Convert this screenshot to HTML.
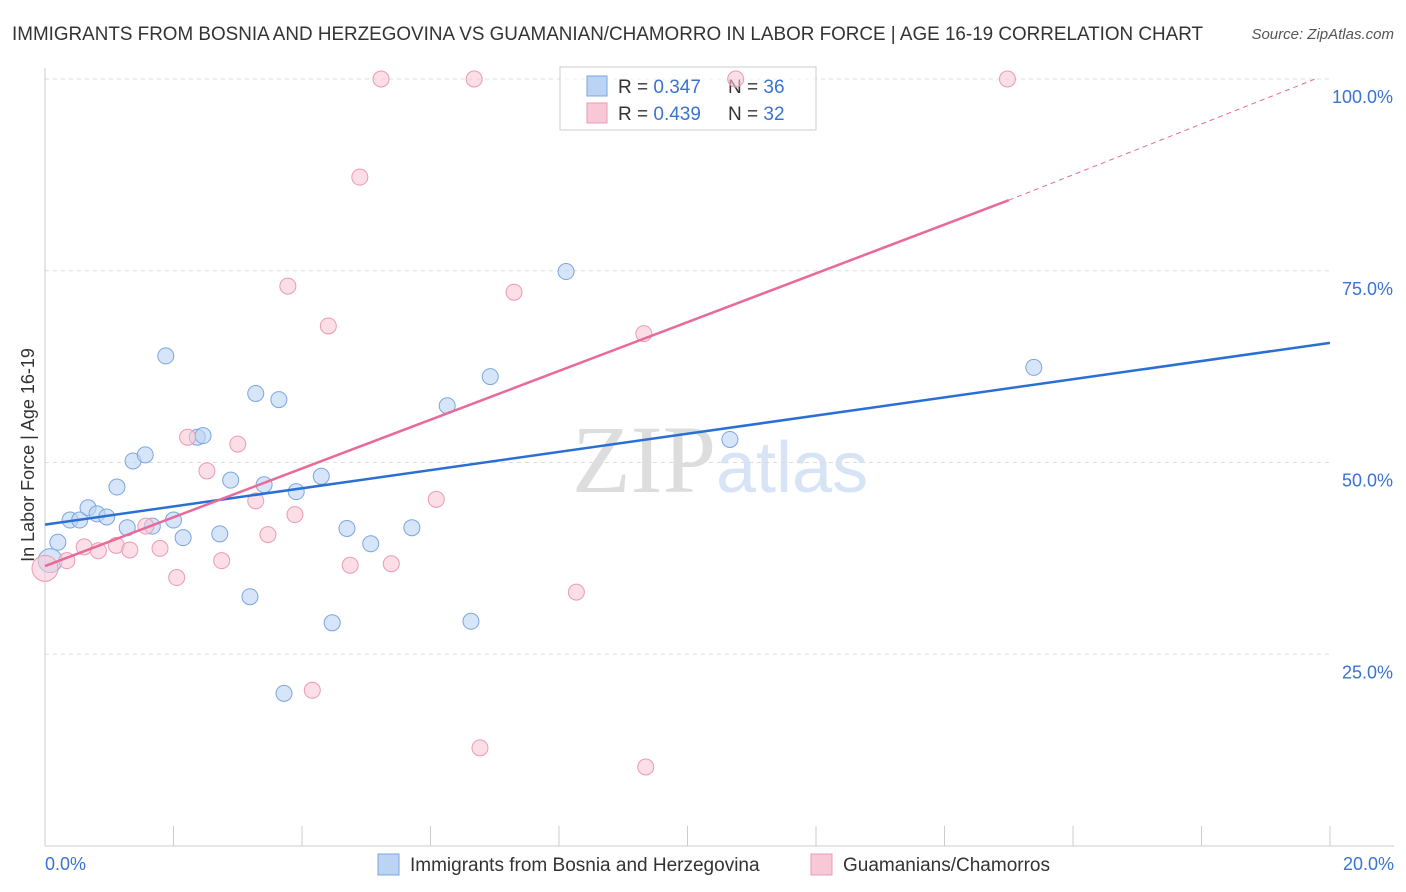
<!DOCTYPE html>
<html><head><meta charset="utf-8"><style>
body{margin:0;background:#fff;font-family:"Liberation Sans",sans-serif}
svg{display:block}
</style></head><body>
<svg id="c" width="1406" height="892">
<text x="12" y="40" font-size="19" fill="#333" textLength="1191" lengthAdjust="spacingAndGlyphs">IMMIGRANTS FROM BOSNIA AND HERZEGOVINA VS GUAMANIAN/CHAMORRO IN LABOR FORCE | AGE 16-19 CORRELATION CHART</text>
<text x="1394" y="39" font-size="15" fill="#555" text-anchor="end" font-style="italic">Source: ZipAtlas.com</text>
<text x="716" y="492" font-size="96" fill="#ddd" text-anchor="end" font-family="Liberation Serif">ZIP</text>
<text x="716" y="492" font-size="72" fill="#d6e4f5">atlas</text>
<text transform="translate(34,455) rotate(-90)" font-size="18" fill="#333" text-anchor="middle">In Labor Force | Age 16-19</text>
<g id="grid"></g>
<g>
<rect x="560" y="67" width="256" height="63" fill="#fff" fill-opacity="0.6" stroke="#ccc"/>
<rect x="587" y="76" width="20" height="20" fill="#bcd4f3" stroke="#7aa6e0"/>
<rect x="587" y="103" width="20" height="20" fill="#f8c8d6" stroke="#ec9ab4"/>
<text x="618" y="93" font-size="19" fill="#333">R = <tspan fill="#3a73d0">0.347</tspan><tspan x="728">N = </tspan><tspan fill="#3a73d0">36</tspan></text>
<text x="618" y="120" font-size="19" fill="#333">R = <tspan fill="#3a73d0">0.439</tspan><tspan x="728">N = </tspan><tspan fill="#3a73d0">32</tspan></text>
</g>
<g id="marks"></g>
<g>
<rect x="378" y="854" width="21" height="21" fill="#bcd4f3" stroke="#7aa6e0"/>
<text x="410" y="871" font-size="19" fill="#333">Immigrants from Bosnia and Herzegovina</text>
<rect x="811" y="854" width="21" height="21" fill="#f8c8d6" stroke="#ec9ab4"/>
<text x="843" y="871" font-size="19" fill="#333">Guamanians/Chamorros</text>
</g>
</svg>
<script>
const blueX=[0.08,0.2,0.39,0.54,0.67,0.81,0.96,1.12,1.28,1.37,1.56,1.67,1.88,2.0,2.15,2.37,2.46,2.72,2.89,3.19,3.28,3.41,3.64,3.72,3.91,4.3,4.47,4.7,5.07,5.71,6.26,6.63,6.93,8.11,10.66,15.39];
const blueY=[37.2,39.6,42.5,42.5,44.1,43.3,42.9,46.8,41.5,50.2,51.0,41.7,63.9,42.5,40.2,53.3,53.5,40.7,47.7,32.5,59.0,47.1,58.2,19.9,46.2,48.2,29.1,41.4,39.4,41.5,57.4,29.3,61.2,74.9,53.0,62.4];
const pinkX=[0.0,0.34,0.61,0.83,1.11,1.32,1.57,1.79,2.05,2.22,2.52,2.75,3.0,3.28,3.47,3.78,3.89,4.16,4.41,4.75,4.90,5.23,5.39,6.09,6.68,6.77,7.3,8.27,9.32,9.35,10.75,14.98];
const pinkY=[36.2,37.2,39.0,38.5,39.2,38.6,41.7,38.8,35.0,53.3,48.9,37.2,52.4,45.0,40.6,73.0,43.2,20.3,67.8,36.6,87.2,100,36.8,45.2,100,12.8,72.2,33.1,66.8,10.3,100,100];
const blueLine=[41.9,65.6], pinkLine=[36.5,84.2,15.0,100.0];
const xTicks=["0.0%","20.0%"], yTicks=[25,50,75,100], yLabels=["25.0%","50.0%","75.0%","100.0%"];
const NS="http://www.w3.org/2000/svg";
const X=v=>45+v/20*1285, Y=v=>846-v/100*767;
function el(t,a,p){const e=document.createElementNS(NS,t);for(const k in a)e.setAttribute(k,a[k]);p.appendChild(e);return e;}
const g=document.getElementById('grid'), m=document.getElementById('marks');
yTicks.forEach((t,i)=>{
 const l=el('line',{x1:45,x2:1330,y1:Y(t),y2:Y(t),stroke:'#ddd','stroke-dasharray':'4,4'},g);
 
 
 const tx=el('text',{x:1393,y:Y(t)+24,'font-size':18,fill:'#3a73d0','text-anchor':'end'},g);tx.textContent=yLabels[i];
 
 
});
el('line',{x1:45,x2:45,y1:68,y2:846,stroke:'#ccc'},g);
el('line',{x1:45,x2:1394,y1:846,y2:846,stroke:'#ccc'},g);
for(let i=0;i<=10;i++){el('line',{x1:X(i*2),x2:X(i*2),y1:826,y2:846,stroke:'#ccc'},g);}
[[xTicks[0],45,'start'],[xTicks[1],1394,'end']].forEach(([t,x,a])=>{const tx=el('text',{x:x,y:870,'font-size':18,fill:'#3a73d0','text-anchor':a},g);tx.textContent=t;
 
 });
function dots(xs,ys,fill,stroke,name,big){xs.forEach((x,i)=>{const r=i==0?big:8;const c=el('circle',{cx:X(x),cy:Y(ys[i]),r:r,fill:fill,'fill-opacity':0.6,stroke:stroke,'stroke-width':1},m);
 
 });}
dots(blueX,blueY,'#bcd4f3','#7aa6e0','point-bosnia',12);
dots(pinkX,pinkY,'#f8c8d6','#ec9ab4','point-guamanian',13);
let l=el('line',{x1:X(0),y1:Y(blueLine[0]),x2:X(20),y2:Y(blueLine[1]),stroke:'#2a6fd6','stroke-width':2.5},m);


l=el('line',{x1:X(0),y1:Y(pinkLine[0]),x2:X(pinkLine[2]),y2:Y(pinkLine[1]),stroke:'#e8699a','stroke-width':2.5},m);


l=el('line',{x1:X(pinkLine[2]),y1:Y(pinkLine[1]),x2:X(19.77),y2:Y(pinkLine[3]),stroke:'#e8699a','stroke-width':1,'stroke-dasharray':'5,4'},m);


</script>
</body></html>
